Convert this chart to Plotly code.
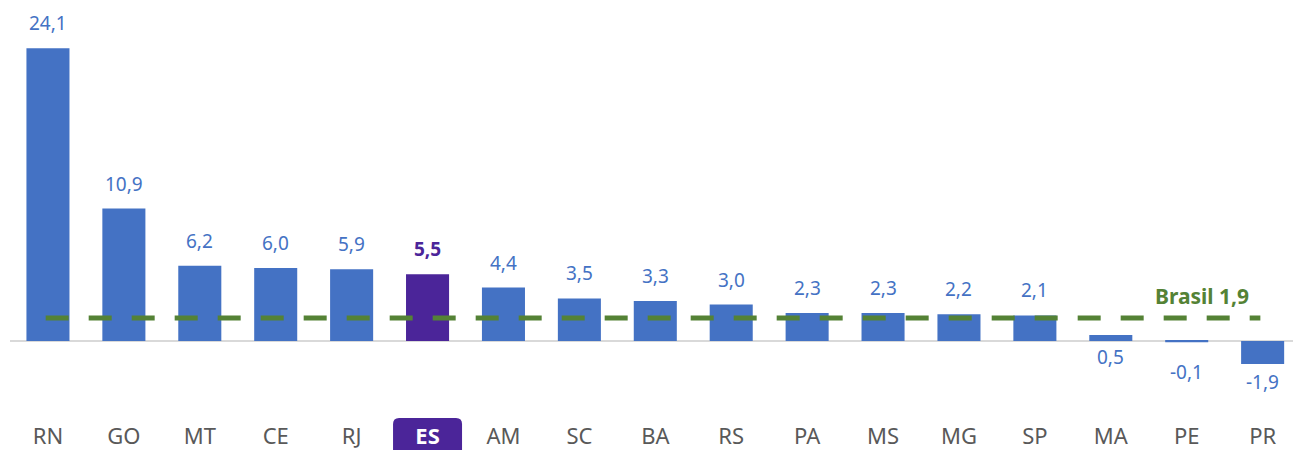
import plotly.graph_objects as go

states = ["RN", "GO", "MT", "CE", "RJ", "ES", "AM", "SC", "BA", "RS", "PA", "MS", "MG", "SP", "MA", "PE", "PR"]
values = [24.1, 10.9, 6.2, 6.0, 5.9, 5.5, 4.4, 3.5, 3.3, 3.0, 2.3, 2.3, 2.2, 2.1, 0.5, -0.1, -1.9]
highlight = "ES"
brasil_label = "Brasil"
brasil_value = 1.9

BLUE = "#4472C4"
PURPLE = "#4B2599"
GREEN = "#548235"
GRAY = "#595959"
FONT = "Noto Sans"

def fmt(v):
    return f"{v:.1f}".replace(".", ",")

colors = [PURPLE if s == highlight else BLUE for s in states]

fig = go.Figure()
fig.add_trace(go.Bar(
    x=list(range(len(states))), y=values,
    marker=dict(color=colors, line=dict(width=0)),
    width=0.567, showlegend=False, hoverinfo="skip",
))

# value labels
special_shift = {"MA": ("zero", -16), "PE": ("val", -30)}
for i, (s, v) in enumerate(zip(states, values)):
    if s in special_shift:
        mode, sh = special_shift[s]
        yy = 0 if mode == "zero" else v
    elif v >= 0:
        yy, sh = v, 25
    else:
        yy, sh = v, -18
    is_h = s == highlight
    fig.add_annotation(
        x=i, y=yy, yshift=sh, xref="x", yref="y",
        text=(f"<b>{fmt(v)}</b>" if is_h else fmt(v)),
        showarrow=False, yanchor="middle",
        font=dict(family=FONT, size=19, color=PURPLE if is_h else BLUE),
    )

# Brasil dashed line
fig.add_shape(type="line", xref="x", yref="y", x0=-0.03, x1=15.97, y0=brasil_value, y1=brasil_value,
              line=dict(color=GREEN, width=5, dash="23px,20px"), layer="above")
fig.add_annotation(x=15.2, y=brasil_value, yshift=22, xref="x", yref="y",
                   text=f"<b>{brasil_label} {fmt(brasil_value)}</b>", showarrow=False,
                   font=dict(family=FONT, size=21, color=GREEN))

# highlighted tick box (rounded)
hi = states.index(highlight)
w, r = 34.5, 6
top, bot = -8, -60
path = (f"M {-w+r},{top} L {w-r},{top} Q {w},{top} {w},{top-r} "
        f"L {w},{bot} L {-w},{bot} L {-w},{top-r} Q {-w},{top} {-w+r},{top} Z")
fig.add_shape(type="path", xref="x", yref="paper", xsizemode="pixel", ysizemode="pixel",
              xanchor=hi, yanchor=0, path=path, fillcolor=PURPLE, line=dict(width=0), layer="below")

ticktext = [f"<b><span style='color:white'>{s}</span></b>" if s == highlight else s for s in states]

fig.update_layout(
    width=1293, height=450,
    margin=dict(l=10, r=0, t=10, b=40),
    paper_bgcolor="white", plot_bgcolor="white",
    font=dict(family=FONT),
    xaxis=dict(tickvals=list(range(len(states))), ticktext=ticktext, range=[-0.5, 16.4],
               showgrid=False, zeroline=False, showline=False, ticks="", automargin=False,
               tickfont=dict(family=FONT, size=22, color=GRAY), ticklabelstandoff=11),
    yaxis=dict(range=[-5.68, 27.24], showgrid=False, zeroline=True, zerolinecolor="#D9D9D9",
               zerolinewidth=2, showticklabels=False, ticks="", showline=False, automargin=False),
)

fig.write_html("out.html", config={"displayModeBar": False},
               post_script="document.body.style.margin='0';document.body.style.overflow='hidden';")
